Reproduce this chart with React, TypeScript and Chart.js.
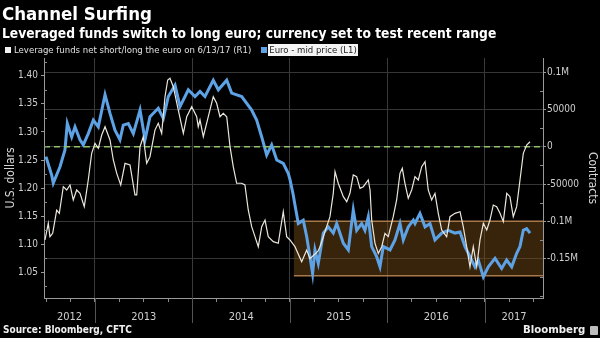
import React, { useEffect, useRef } from 'react';
import { Chart, registerables } from 'chart.js';
Chart.register(...registerables);

// ---- data ----
const priceDates = [
  2012.497, 2012.556, 2012.572, 2012.641, 2012.692, 2012.716, 2012.761, 2012.795, 2012.846, 2012.880,
  2012.931, 2012.983, 2013.034, 2013.103, 2013.154, 2013.205, 2013.256, 2013.290, 2013.342, 2013.393,
  2013.462, 2013.513, 2013.564, 2013.649, 2013.701, 2013.752, 2013.821, 2013.872, 2013.957, 2014.026,
  2014.077, 2014.128, 2014.213, 2014.265, 2014.351, 2014.402, 2014.505, 2014.607, 2014.658, 2014.710,
  2014.761, 2014.812, 2014.864, 2014.931, 2014.983, 2015.000, 2015.031, 2015.051, 2015.085, 2015.136,
  2015.171, 2015.205, 2015.232, 2015.256, 2015.290, 2015.342, 2015.393, 2015.444, 2015.479, 2015.547,
  2015.598, 2015.649, 2015.684, 2015.735, 2015.769, 2015.803, 2015.838, 2015.889, 2015.923, 2015.957,
  2016.026, 2016.077, 2016.128, 2016.162, 2016.213, 2016.265, 2016.282, 2016.333, 2016.385, 2016.436,
  2016.487, 2016.556, 2016.624, 2016.692, 2016.744, 2016.795, 2016.846, 2016.897, 2016.931, 2016.983,
  2017.034, 2017.103, 2017.171, 2017.222, 2017.274, 2017.325, 2017.359, 2017.393, 2017.427, 2017.462,
];
const priceValues = [
  1.256, 1.223, 1.209, 1.238, 1.268, 1.315, 1.291, 1.309, 1.286, 1.277,
  1.297, 1.321, 1.309, 1.366, 1.333, 1.303, 1.286, 1.312, 1.315, 1.297,
  1.339, 1.286, 1.327, 1.342, 1.324, 1.363, 1.383, 1.345, 1.375, 1.363,
  1.372, 1.363, 1.392, 1.375, 1.392, 1.369, 1.363, 1.339, 1.321, 1.291,
  1.259, 1.277, 1.250, 1.244, 1.226, 1.215, 1.190, 1.170, 1.137, 1.143,
  1.114, 1.078, 1.048, 1.090, 1.066, 1.120, 1.131, 1.120, 1.137, 1.102,
  1.090, 1.161, 1.125, 1.137, 1.125, 1.149, 1.096, 1.078, 1.060, 1.096,
  1.090, 1.108, 1.137, 1.108, 1.131, 1.143, 1.137, 1.155, 1.131, 1.137,
  1.108, 1.120, 1.125, 1.120, 1.122, 1.096, 1.078, 1.060, 1.072, 1.042,
  1.060, 1.075, 1.057, 1.072, 1.060, 1.084, 1.096, 1.125, 1.128, 1.120,
];
const positionDates = [
  2012.487, 2012.521, 2012.538, 2012.566, 2012.607, 2012.634, 2012.675, 2012.710, 2012.744, 2012.777,
  2012.812, 2012.846, 2012.890, 2012.931, 2012.966, 2013.000, 2013.034, 2013.069, 2013.103, 2013.154,
  2013.188, 2013.223, 2013.264, 2013.308, 2013.359, 2013.410, 2013.428, 2013.462, 2013.495, 2013.530,
  2013.564, 2013.615, 2013.649, 2013.684, 2013.718, 2013.746, 2013.769, 2013.803, 2013.854, 2013.906,
  2013.941, 2013.992, 2014.043, 2014.059, 2014.077, 2014.111, 2014.162, 2014.213, 2014.248, 2014.282,
  2014.316, 2014.351, 2014.385, 2014.418, 2014.453, 2014.505, 2014.538, 2014.572, 2014.607, 2014.641,
  2014.675, 2014.710, 2014.744, 2014.777, 2014.829, 2014.880, 2014.931, 2014.966, 2015.000, 2015.051,
  2015.120, 2015.171, 2015.205, 2015.287, 2015.308, 2015.376, 2015.410, 2015.444, 2015.462, 2015.495,
  2015.547, 2015.582, 2015.615, 2015.649, 2015.684, 2015.718, 2015.752, 2015.803, 2015.821, 2015.838,
  2015.872, 2015.906, 2015.941, 2015.974, 2016.008, 2016.059, 2016.094, 2016.128, 2016.152, 2016.179,
  2016.213, 2016.248, 2016.282, 2016.316, 2016.351, 2016.385, 2016.418, 2016.453, 2016.487, 2016.521,
  2016.556, 2016.607, 2016.641, 2016.692, 2016.744, 2016.777, 2016.812, 2016.846, 2016.880, 2016.915,
  2016.949, 2016.983, 2017.018, 2017.051, 2017.085, 2017.120, 2017.154, 2017.188, 2017.223, 2017.256,
  2017.290, 2017.325, 2017.359, 2017.393, 2017.428, 2017.462,
];
const positionValues = [
  -125000, -102700, -120600, -116100, -84900, -89300, -53600, -58000, -51300, -71400,
  -58000, -62500, -80400, -44600, -8800, 4500, -2200, 15700, 26800, 9000,
  -17800, -35700, -51300, -22300, -24500, -64700, -64700, 0, 13400, -22300,
  -13400, 22300, 31300, 17900, 67000, 89400, 91700, 80400, 49200, 17900,
  40200, 53600, 40200, 26800, 35800, 13400, 40200, 67000, 58200, 40200,
  44800, 40200, 0, -26800, -49000, -49000, -51300, -84800, -107200, -120600,
  -134000, -107200, -98300, -120600, -127300, -129500, -87100, -120600, -125000, -134000,
  -154200, -138500, -150000, -140000, -134000, -107200, -93800, -62500, -33500, -49000,
  -67000, -73700, -62500, -37900, -40200, -55800, -53600, -44600, -58000, -98300,
  -129500, -143000, -134000, -116100, -120600, -93800, -71400, -35700, -29000, -49000,
  -69200, -58000, -40200, -44600, -26800, -20100, -58000, -71400, -62500, -89300,
  -111700, -120600, -93800, -89300, -87100, -107200, -134000, -160900, -134000, -160900,
  -125000, -102700, -111700, -98300, -78200, -80400, -89300, -100500, -62500, -67000,
  -93800, -80400, -44600, -8900, 2200, 6700,
];
const yearLabels = ['2012', '2013', '2014', '2015', '2016', '2017'];
const xRange = [2012.477, 2017.595];
const leftRange = [1.0045, 1.4315];
const rightRange = [-202800, 118900];
const leftTickValues = [1.05, 1.1, 1.15, 1.2, 1.25, 1.3, 1.35, 1.4];
const leftTickLabels = ['1.05', '1.10', '1.15', '1.20', '1.25', '1.30', '1.35', '1.40'];
const rightTickValues = [-150000, -100000, -50000, 0, 50000, 100000];
const rightTickLabels = ['-0.15M', '-0.1M', '-50000', '0', '50000', '0.1M'];
const referenceLevel = 0;
const rangeBoxStart = 2015.04;
const rangeBoxTop = -100000;
const rangeBoxBottom = -173000;

const FONT = '"DejaVu Sans Condensed", "DejaVu Sans", sans-serif';

const near = (a: number, b: number) => Math.abs(a - b) < 1e-6;
const isQuarter = (v: number) => near(v * 4, Math.round(v * 4));
const isYear = (v: number) => near(v, Math.round(v));

const yearCenters = yearLabels.map((l) => {
  const y = Number(l);
  return (Math.max(y, xRange[0]) + Math.min(y + 1, xRange[1])) / 2;
});

function buildXTicks() {
  const out: { value: number }[] = [];
  for (let q = Math.ceil(xRange[0] * 4) / 4; q <= xRange[1] + 1e-9; q += 0.25) {
    if (!yearCenters.some((c) => near(c, q))) out.push({ value: q });
  }
  yearCenters.forEach((c) => out.push({ value: c }));
  out.sort((a, b) => a.value - b.value);
  return out;
}

function minorTicks(major: number[], step: number, range: number[]) {
  const res: number[] = [];
  const start = Math.ceil(range[0] / step) * step;
  for (let v = start; v <= range[1]; v += step) {
    if (!major.some((m) => Math.abs(m - v) < step / 10)) res.push(v);
  }
  return res;
}

const decorations = {
  id: 'decorations',
  beforeDatasetsDraw(chart: any) {
    const { ctx, chartArea, scales } = chart;
    const x0 = scales.x.getPixelForValue(rangeBoxStart);
    const x1 = chartArea.right;
    const y0 = scales.yR.getPixelForValue(rangeBoxTop);
    const y1 = scales.yR.getPixelForValue(rangeBoxBottom);
    ctx.save();
    ctx.fillStyle = 'rgba(125,80,25,0.45)';
    ctx.fillRect(x0, y0, x1 - x0, y1 - y0);
    ctx.strokeStyle = '#a8784a';
    ctx.lineWidth = 1.5;
    ctx.beginPath();
    ctx.moveTo(x0, y0);
    ctx.lineTo(x1, y0);
    ctx.moveTo(x0, y1);
    ctx.lineTo(x1, y1);
    ctx.stroke();
    ctx.restore();
  },
  afterDraw(chart: any) {
    const { ctx, chartArea, scales } = chart;
    ctx.save();
    ctx.strokeStyle = '#8a8a8a';
    ctx.lineWidth = 1;
    ctx.beginPath();
    minorTicks(leftTickValues, 0.025, leftRange).forEach((v) => {
      const y = Math.round(scales.yL.getPixelForValue(v)) + 0.5;
      ctx.moveTo(chartArea.left, y);
      ctx.lineTo(chartArea.left + 3, y);
    });
    minorTicks(rightTickValues, 25000, rightRange).forEach((v) => {
      const y = Math.round(scales.yR.getPixelForValue(v)) + 0.5;
      ctx.moveTo(chartArea.right - 3, y);
      ctx.lineTo(chartArea.right, y);
    });
    ctx.stroke();
    ctx.strokeStyle = '#555';
    ctx.beginPath();
    for (let yr = Math.ceil(xRange[0]); yr < xRange[1]; yr++) {
      const x = Math.round(scales.x.getPixelForValue(yr)) + 0.5;
      ctx.moveTo(x, chartArea.bottom);
      ctx.lineTo(x, chartArea.bottom + 25);
    }
    ctx.stroke();
    ctx.restore();
  },
};

export default function App() {
  const ref = useRef<HTMLCanvasElement>(null);
  useEffect(() => {
    document.body.style.margin = '0';
    document.body.style.background = '#000';
    const chart = new Chart(ref.current as HTMLCanvasElement, {
      type: 'line',
      data: {
        datasets: [
          {
            label: 'Leverage funds net short/long the euro on 6/13/17 (R1)',
            data: positionDates.map((x, i) => ({ x, y: positionValues[i] })),
            yAxisID: 'yR',
            borderColor: '#ece7dc',
            borderWidth: 1.2,
            pointRadius: 0,
            order: 0,
          },
          {
            label: 'zero',
            data: [
              { x: xRange[0], y: referenceLevel },
              { x: xRange[1], y: referenceLevel },
            ],
            yAxisID: 'yR',
            borderColor: '#8fc46a',
            borderDash: [6, 4],
            borderWidth: 1.5,
            pointRadius: 0,
            order: 1,
          },
          {
            label: 'Euro - mid price (L1)',
            data: priceDates.map((x, i) => ({ x, y: priceValues[i] })),
            yAxisID: 'yL',
            borderColor: '#5ea2e6',
            borderWidth: 3,
            pointRadius: 0,
            order: 2,
          },
        ],
      } as any,
      options: {
        animation: false,
        responsive: false,
        layout: { padding: { top: 58, left: 0, right: 0, bottom: 0 } },
        plugins: { legend: { display: false }, tooltip: { enabled: false } },
        scales: {
          x: {
            type: 'linear',
            min: xRange[0],
            max: xRange[1],
            afterBuildTicks: (s: any) => {
              s.ticks = buildXTicks();
            },
            afterFit: (s: any) => {
              s.height = 40;
            },
            grid: {
              color: (c: any) => (c.tick && isYear(c.tick.value) ? '#3a3a3a' : 'rgba(0,0,0,0)'),
              tickColor: (c: any) => (c.tick && isQuarter(c.tick.value) ? '#8a8a8a' : 'rgba(0,0,0,0)'),
              tickLength: 4,
            },
            border: { color: '#9a9a9a' },
            ticks: {
              autoSkip: false,
              maxRotation: 0,
              padding: 9,
              color: '#cfcfcf',
              font: { family: FONT, size: 11 },
              callback: (v: any) => {
                const i = yearCenters.findIndex((c) => near(c, Number(v)));
                return i >= 0 ? yearLabels[i] : '';
              },
            },
          },
          yL: {
            type: 'linear',
            position: 'left',
            min: leftRange[0],
            max: leftRange[1],
            afterBuildTicks: (s: any) => {
              s.ticks = leftTickValues.map((value) => ({ value }));
            },
            afterFit: (s: any) => {
              s.width = 44;
            },
            grid: { drawOnChartArea: false, tickLength: 3, tickColor: '#9a9a9a' },
            border: { color: '#9a9a9a' },
            ticks: {
              padding: 3,
              color: '#cfcfcf',
              font: { family: FONT, size: 10 },
              callback: (v: any) => {
                const i = leftTickValues.findIndex((t) => near(t, Number(v)));
                return i >= 0 ? leftTickLabels[i] : '';
              },
            },
            title: {
              display: true,
              text: 'U.S. dollars',
              color: '#d8d8d8',
              font: { family: FONT, size: 12 },
              padding: { top: 4, bottom: 0 },
            },
          },
          yR: {
            type: 'linear',
            position: 'right',
            min: rightRange[0],
            max: rightRange[1],
            afterBuildTicks: (s: any) => {
              s.ticks = rightTickValues.map((value) => ({ value }));
            },
            afterFit: (s: any) => {
              s.width = 57;
            },
            grid: { color: '#363636', tickLength: 3, tickColor: '#9a9a9a' },
            border: { color: '#9a9a9a' },
            ticks: {
              padding: 1,
              color: '#cfcfcf',
              font: { family: FONT, size: 10 },
              callback: (v: any) => {
                const i = rightTickValues.findIndex((t) => near(t, Number(v)));
                return i >= 0 ? rightTickLabels[i] : '';
              },
            },
            title: {
              display: true,
              text: 'Contracts',
              color: '#d8d8d8',
              font: { family: FONT, size: 12 },
              padding: { top: 1, bottom: 0 },
            },
          },
        },
      } as any,
      plugins: [decorations],
    });
    return () => chart.destroy();
  }, []);

  const abs = (s: React.CSSProperties): React.CSSProperties => ({ position: 'absolute', whiteSpace: 'nowrap', fontFamily: FONT, ...s });

  return (
    <div style={{ position: 'fixed', left: 0, top: 0, width: 600, height: 338, background: '#000', overflow: 'hidden' }}>
      <canvas ref={ref} width={600} height={338} style={{ position: 'absolute', left: 0, top: 0, width: 600, height: 338 }} />
      <div style={abs({ left: 2, top: 3, fontSize: 18.5, lineHeight: '22px', fontWeight: 'bold', color: '#fff' })}>Channel Surfing</div>
      <div style={abs({ left: 2, top: 25, fontSize: 13.7, lineHeight: '16px', fontWeight: 'bold', color: '#fff' })}>
        Leveraged funds switch to long euro; currency set to test recent range
      </div>
      <div style={abs({ left: 5, top: 44, fontSize: 9.5, lineHeight: '12px', color: '#e0e0e0', display: 'flex', alignItems: 'center' })}>
        <span style={{ display: 'inline-block', width: 6, height: 6, background: '#f2f2f2', marginRight: 3 }} />
        <span>Leverage funds net short/long the euro on 6/13/17 (R1)</span>
        <span style={{ display: 'inline-block', width: 6, height: 6, background: '#5ea2e6', marginLeft: 10, marginRight: 1 }} />
        <span style={{ background: '#f4f4f4', color: '#222', padding: '0 1px' }}>Euro - mid price (L1)</span>
      </div>
      <div style={abs({ left: 3, top: 323, fontSize: 10, lineHeight: '13px', fontWeight: 'bold', color: '#f0f0f0' })}>
        Source: Bloomberg, CFTC
      </div>
      <div style={abs({ left: 523, top: 323, fontSize: 11.3, lineHeight: '14px', fontWeight: 'bold', color: '#f0f0f0', display: 'flex', alignItems: 'center' })}>
        <span>Bloomberg</span>
        <span style={{ display: 'inline-block', width: 8, height: 9, background: '#bdbdbd', marginLeft: 5, borderRadius: 1 }} />
      </div>
    </div>
  );
}
